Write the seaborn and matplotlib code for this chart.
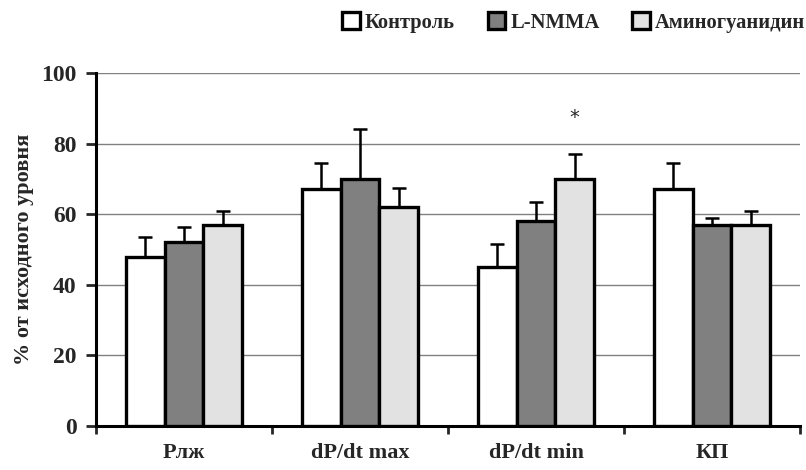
import pandas as pd
import matplotlib.pyplot as plt
import seaborn as sns
from matplotlib.patches import Patch

categories = ['Рлж', 'dP/dt max', 'dP/dt min', 'КП']
groups = ['Контроль', 'L-NMMA', 'Аминогуанидин']
control = [48, 67, 45, 67]
lnmma = [52, 70, 58, 57]
amino = [57, 62, 70, 57]
control_err = [5.5, 7.5, 6.5, 7.5]
lnmma_err = [4.5, 14, 5.5, 2]
amino_err = [4, 5.5, 7, 4]
colors = ['#ffffff', '#808080', '#e2e2e2']

rows = []
for g, vals in zip(groups, [control, lnmma, amino]):
    for c, v in zip(categories, vals):
        rows.append({'cat': c, 'group': g, 'val': v})
df = pd.DataFrame(rows)

sns.set_style("white")
plt.rcParams['font.family'] = ['Liberation Serif', 'DejaVu Serif']

fig = plt.figure(figsize=(8.06, 4.70), dpi=100)
ax = fig.add_axes([96 / 806, 1 - 426 / 470, 704 / 806, 353 / 470])

sns.barplot(data=df, x='cat', y='val', hue='group', order=categories, hue_order=groups,
            palette=colors, width=0.66, edgecolor='black', linewidth=2.4,
            errorbar=None, legend=False, ax=ax, zorder=3)

for cont, errs in zip(ax.containers, [control_err, lnmma_err, amino_err]):
    for bar, e in zip(cont, errs):
        x = bar.get_x() + bar.get_width() / 2
        h = bar.get_height()
        ax.errorbar(x, h, yerr=[[0], [e]], fmt='none', ecolor='black',
                    elinewidth=1.8, capsize=5, capthick=1.8, zorder=2)

# significance mark
star_bar = ax.containers[2][2]
ax.text(star_bar.get_x() + star_bar.get_width() / 2, 87.5, '*', ha='center', va='center',
        fontsize=14, family=['DejaVu Sans'])

ax.set_ylim(0, 100)
ax.set_xlim(-0.5, 3.5)
ax.set_yticks([0, 20, 40, 60, 80, 100])
ax.set_yticklabels(['0', '20', '40', '60', '80', '100'], fontsize=17, fontweight='bold')
ax.set_xticks(range(4))
ax.set_xticklabels(categories, fontsize=16, fontweight='bold')
ax.set_xticks([-0.5, 0.5, 1.5, 2.5, 3.5], minor=True)
ax.tick_params(axis='x', which='major', bottom=True, length=0, pad=12)
ax.tick_params(axis='x', which='minor', bottom=True, length=6, width=2, direction='out')
ax.tick_params(axis='y', left=True, length=7, width=2, direction='out', pad=7)
ax.yaxis.grid(True, color='#808080', linewidth=1)
ax.set_axisbelow(True)
ax.set_xlabel('')
ax.set_ylabel('% от исходного уровня', fontsize=16, fontweight='bold', labelpad=5)
for s in ['top', 'right']:
    ax.spines[s].set_visible(False)
for s in ['left', 'bottom']:
    ax.spines[s].set_linewidth(2.2)
    ax.spines[s].set_color('black')

handles = [Patch(facecolor=c, edgecolor='black', linewidth=2.4) for c in colors]
fig.legend(handles, groups, loc='upper right', bbox_to_anchor=(1.022, 1.013), ncol=3,
           frameon=False, handlelength=0.85, handleheight=0.85, handletextpad=0.25,
           columnspacing=1.6, prop={'size': 14.8, 'weight': 'bold'})

fig.savefig('out.png', dpi=100)
